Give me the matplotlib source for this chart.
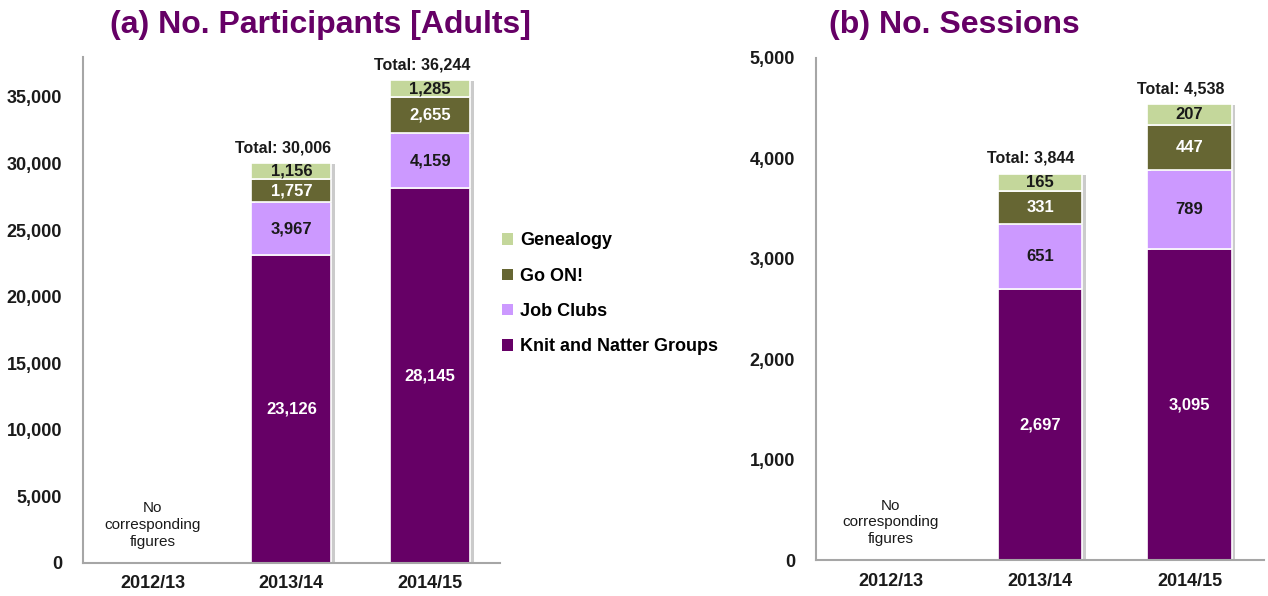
import numpy as np
import matplotlib
matplotlib.use('Agg')
import matplotlib.pyplot as plt
import matplotlib.patheffects as pe
from matplotlib.patches import Patch

plt.rcParams['font.family'] = ['Liberation Sans', 'DejaVu Sans']

years = ['2012/13', '2013/14', '2014/15']
series = ['Knit and Natter Groups', 'Job Clubs', 'Go ON!', 'Genealogy']
colors = ['#660066', '#CC99FF', '#666633', '#C4D79B']
label_colors = ['white', '#1a1a1a', 'white', '#1a1a1a']

# participants (adults), no figures for 2012/13
part_knit = [0, 23126, 28145]
part_job = [0, 3967, 4159]
part_goon = [0, 1757, 2655]
part_gen = [0, 1156, 1285]
part_total = [None, 30006, 36244]

# sessions
sess_knit = [0, 2697, 3095]
sess_job = [0, 651, 789]
sess_goon = [0, 331, 447]
sess_gen = [0, 165, 207]
sess_total = [None, 3844, 4538]

purple = '#660066'
axis_grey = '#a6a6a6'


def stacked(ax, data, totals, width, ymax, step):
    x = np.arange(len(years))
    bottom = np.zeros(len(years))
    shadow = [pe.SimplePatchShadow(offset=(2.5, -0.5), shadow_rgbFace='#999999', alpha=0.5), pe.Normal()]
    for vals, c, lc in zip(data, colors, label_colors):
        vals = np.array(vals, dtype=float)
        bars = ax.bar(x, vals, width, bottom=bottom, color=c, edgecolor='white', linewidth=1.2)
        for b, v, b0 in zip(bars, vals, bottom):
            if v > 0:
                b.set_path_effects(shadow)
                ax.text(b.get_x() + b.get_width() / 2, b0 + v / 2, f'{int(v):,}',
                        ha='center', va='center', color=lc, fontsize=12, fontweight='bold')
        bottom = bottom + vals
    for xi, t in zip(x, totals):
        if t is not None:
            ax.annotate(f'Total: {t:,}', (xi - 0.06, t), xytext=(0, 6), textcoords='offset points',
                        ha='center', va='bottom', fontsize=11.5, fontweight='bold', color='#1a1a1a')
    ax.text(0, 0.075, 'No\ncorresponding\nfigures', transform=ax.get_xaxis_transform(),
            ha='center', va='center', fontsize=11, color='#1a1a1a', linespacing=1.25)
    ax.set_xlim(-0.5, len(years) - 0.5)
    ax.set_ylim(0, ymax)
    ax.set_yticks(np.arange(0, ymax + 1, step))
    ax.yaxis.set_major_formatter(matplotlib.ticker.FuncFormatter(lambda v, p: f'{int(v):,}'))
    ax.set_xticks(x)
    ax.set_xticklabels(years)
    for s in ['top', 'right']:
        ax.spines[s].set_visible(False)
    for s in ['left', 'bottom']:
        ax.spines[s].set_color(axis_grey)
        ax.spines[s].set_linewidth(1.5)
    ax.tick_params(length=0, labelsize=13, labelcolor='#1a1a1a')
    ax.tick_params(axis='y', pad=15)
    ax.tick_params(axis='x', pad=9)
    for lab in ax.get_xticklabels() + ax.get_yticklabels():
        lab.set_fontweight('bold')


fig = plt.figure(figsize=(12.68, 5.96), dpi=100)

ax1 = fig.add_axes([0.0655, 0.0554, 0.3285, 0.849])
stacked(ax1, [part_knit, part_job, part_goon, part_gen], part_total, 0.575, 38000, 5000)
ax1.set_yticks(np.arange(0, 35001, 5000))
fig.text(0.253, 0.958, '(a) No. Participants [Adults]', ha='center', va='center',
         fontsize=23, fontweight='bold', color=purple)

ax2 = fig.add_axes([0.6435, 0.0604, 0.3535, 0.8423])
stacked(ax2, [sess_knit, sess_job, sess_goon, sess_gen], sess_total, 0.565, 5000, 1000)
fig.text(0.753, 0.958, '(b) No. Sessions', ha='center', va='center',
         fontsize=23, fontweight='bold', color=purple)

handles = [Patch(facecolor=c, edgecolor='none') for c in colors][::-1]
fig.legend(handles, series[::-1], loc='center left', bbox_to_anchor=(0.383, 0.507),
           frameon=False, handlelength=0.6, handleheight=0.6, handletextpad=0.4,
           labelspacing=1.02, prop={'weight': 'bold', 'size': 13})

fig.savefig('out.png', dpi=100)
